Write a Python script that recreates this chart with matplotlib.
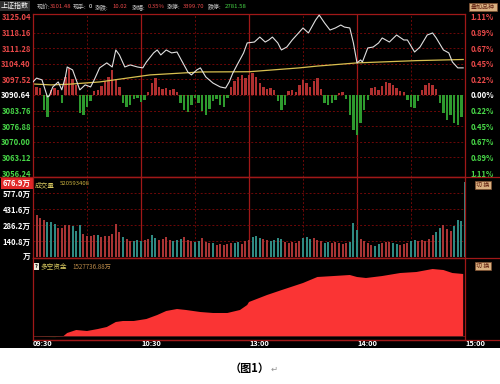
import matplotlib
matplotlib.use("Agg")
import matplotlib.pyplot as plt
from matplotlib.patches import Rectangle
from matplotlib.lines import Line2D

plt.rcParams['font.family'] = ['Noto Sans CJK SC', 'DejaVu Sans']

W, H = 500, 384
BASE = 3090.64

# 分时价格 (minutes after 09:30, trading time only)
price_min = [0, 2, 5, 8, 9, 11, 14, 16, 18, 19, 22, 24, 26, 29, 32, 34, 37, 41, 44, 46,
             48, 51, 54, 58, 61, 63, 67, 69, 71, 74, 77, 80, 83, 86, 88, 91, 93, 96, 100, 104,
             107, 109, 111, 114, 117, 119, 123, 126, 129, 131, 133, 136, 138, 141, 144, 150, 153, 157, 159, 162,
             165, 168, 171, 173, 176, 178, 180, 182, 183, 186, 189, 192, 194, 198, 202, 206, 208, 212, 215, 219,
             222, 224, 228, 231, 233, 236, 239]
price_val = [3096.4, 3098.1, 3097.3, 3089.8, 3090.2, 3094.2, 3096.4, 3092.9, 3098.6, 3103.0,
             3101.7, 3097.3, 3092.9, 3095.1, 3094.2, 3097.3, 3102.6, 3104.8, 3103.0, 3110.5,
             3108.3, 3103.0, 3103.9, 3103.0, 3102.6, 3105.2, 3109.2, 3110.5, 3108.3, 3110.5,
             3109.2, 3109.6, 3105.2, 3100.8, 3099.5, 3101.7, 3102.6, 3098.6, 3095.9, 3094.2,
             3093.7, 3096.4, 3100.3, 3104.8, 3109.2, 3113.6, 3114.0, 3116.2, 3114.0, 3114.9,
             3116.2, 3113.6, 3110.5, 3111.8, 3114.9, 3120.2, 3118.0, 3123.7, 3125.9, 3122.4,
             3119.3, 3120.2, 3121.5, 3120.6, 3120.2, 3113.6, 3104.8, 3106.1, 3105.2, 3111.4,
             3111.8, 3113.6, 3115.8, 3114.0, 3117.1, 3114.9, 3114.9, 3109.6, 3111.8, 3117.1,
             3118.0, 3115.8, 3110.5, 3109.2, 3105.2, 3102.6, 3102.6]

# 均价线
avg_min = [0, 10, 20, 37, 65, 93, 120, 148, 158, 180, 213, 239]
avg_val = [3095.5, 3095.1, 3095.4, 3096.4, 3099.5, 3100.8, 3100.9, 3102.6, 3103.4, 3104.8, 3105.8, 3106.3]

# 红绿柱 (points vs. previous close, every 2 minutes)
lead_val = [2.6, 3.5, 3.1, -6.6, -9.7, 2.2, 3.1, 2.2, -3.5, 7.9,
            11.9, 7.1, 4.4, -7.9, -8.8, -5.3, -2.6, 1.8, 2.2, 4.0,
            6.2, 7.9, 11.0, 7.1, 3.5, -3.5, -5.3, -4.4, -1.8, -1.3,
            -3.1, -2.2, 1.3, 5.3, 7.5, 3.5, 2.6, 3.1, 2.2, 2.6,
            1.3, -3.5, -6.6, -7.5, -4.4, -1.3, -3.5, -7.1, -8.8, -6.2,
            -2.6, -1.8, -4.4, -5.3, -1.3, 3.5, 6.2, 7.9, 8.8, 7.5,
            8.8, 9.7, 7.9, 5.3, 3.5, 2.6, 3.1, 2.2, -2.6, -6.6,
            -4.4, 1.8, 2.2, 1.3, 4.4, 6.6, 5.3, 3.5, 6.2, 7.5,
            2.6, -3.5, -4.4, -3.5, -2.2, 0.9, 1.3, -1.8, -8.8, -15.4,
            -17.6, -12.3, -6.6, -2.2, 3.1, 3.5, 2.2, 4.0, 5.7, 5.3,
            4.4, 3.1, 1.8, 1.3, -2.2, -5.3, -5.7, -2.6, 2.2, 4.4,
            5.3, 4.4, 2.6, -3.5, -7.9, -11.0, -8.8, -12.3, -13.2, -9.7]

# 成交量 (万, every 2 minutes, last one = 15:00)
vol_val = [414, 376, 348, 329, 310, 310, 291, 263, 263, 282,
           282, 273, 235, 282, 207, 188, 188, 197, 197, 179,
           188, 188, 207, 291, 226, 179, 160, 141, 141, 150,
           141, 150, 160, 197, 169, 150, 160, 179, 150, 141,
           150, 160, 179, 150, 141, 132, 141, 169, 132, 122,
           122, 103, 113, 103, 113, 122, 122, 132, 113, 141,
           150, 179, 188, 169, 160, 150, 141, 150, 169, 160,
           132, 122, 132, 122, 141, 169, 179, 160, 169, 150,
           141, 122, 132, 122, 132, 122, 113, 122, 132, 301,
           244, 160, 141, 122, 103, 94, 113, 122, 132, 132,
           122, 113, 103, 113, 122, 141, 150, 141, 150, 141,
           160, 197, 226, 263, 282, 254, 235, 273, 329, 320,
           677]
vol_dir = ("rrrrgggrrrrgggrrrrgrrrrrrgrrgggrrggrrrrgggrrrgg"
           "rrrgrrrrrggrrrgggrrggggrrrrrgggrrrggrrrrrgggrrrr"
           "ggrrrggrrrggrrrrrggrrrgggg")

# 多空资金 (亿)
flow_min = [0, 7, 12, 17, 19, 24, 30, 36, 41, 46, 50, 56, 63, 69, 74, 80, 85, 93, 100, 108,
            115, 119, 120, 130, 138, 150, 158, 167, 176, 180, 185, 194, 204, 213, 222, 228, 233, 239]
flow_val = [0, -1.2, -1.5, 0, 7.4, 14.8, 12.3, 17.2, 22.2, 34.5, 37.0, 37.0, 41.9, 51.7, 61.6, 66.5,
            64.1, 59.1, 56.7, 56.7, 64.1, 76.4, 83.8, 101.0, 113.0, 130.6, 145.4, 147.8, 150.3, 145.4,
            142.9, 147.8, 155.2, 157.7, 165.1, 162.6, 155.2, 152.8]

price_ticks = [3125.04, 3118.16, 3111.28, 3104.40, 3097.52, 3090.64,
               3083.76, 3076.88, 3070.00, 3063.12, 3056.24]
pct_labels = ['1.11%', '0.89%', '0.67%', '0.45%', '0.22%', '0.00%',
              '0.22%', '0.45%', '0.67%', '0.89%', '1.11%']
vol_ticks = [676.9, 577.0, 431.6, 286.2, 140.8, 0]
vol_labels = ['676.9万', '577.0万', '431.6万', '286.2万', '140.8万', '万']
time_ticks = [0, 60, 120, 180, 240]
time_labels = ['09:30', '10:30', '13:00', '14:00', '15:00']

BORDER = '#a01818'
GRID = '#6e0808'
RED_TXT = '#e84848'
GRN_TXT = '#48d848'
X0, X1 = 33, 465

fig = plt.figure(figsize=(W / 100, H / 100), dpi=100, facecolor='white')
fig.patches.append(Rectangle((0, 1 - 348 / H), 1, 348 / H, transform=fig.transFigure,
                             facecolor='black', edgecolor='none', zorder=-10))


def panel(y0, y1):
    ax = fig.add_axes([X0 / W, 1 - y1 / H, (X1 - X0) / W, (y1 - y0) / H])
    ax.set_facecolor('black')
    for s in ax.spines.values():
        s.set_color(BORDER)
        s.set_linewidth(0.9)
    ax.set_xlim(0, 240)
    ax.set_xticks([])
    ax.tick_params(length=0)
    return ax


def hline(y, xa, xb, **kw):
    fig.add_artist(Line2D([xa / W, xb / W], [1 - y / H, 1 - y / H], **kw))


def vgrid(ax):
    for m in [30, 90, 150, 210]:
        ax.axvline(m, color=GRID, lw=0.7, ls=(0, (2, 2)), zorder=0)
    for m in [60, 120, 180]:
        ax.axvline(m, color=BORDER, lw=0.9, zorder=0)


# ---- price panel
ax = panel(14, 177)
ax.set_ylim(BASE - 82 * 0.441, BASE + 81 * 0.441)
vgrid(ax)
for t in price_ticks[1:-1]:
    ax.axhline(t, color=GRID, lw=0.7, ls=(0, (2, 2)), zorder=0)
mins2 = [2 * i for i in range(len(lead_val))]
ax.bar(mins2, lead_val, bottom=BASE, width=1.3,
       color=['#b03030' if v > 0 else '#2e9a2e' for v in lead_val], zorder=1)
ax.plot(avg_min, avg_val, color='#d8c050', lw=0.9, zorder=2)
ax.plot(price_min, price_val, color='#e0e0e0', lw=0.8, zorder=3)
ax.set_yticks(price_ticks)
ax.set_yticklabels([f'{t:.2f}' for t in price_ticks], fontsize=5.5, fontweight='bold')
ax.tick_params(axis='y', pad=1.5)
for i, lab in enumerate(ax.get_yticklabels()):
    lab.set_color(RED_TXT if i < 5 else ('white' if i == 5 else GRN_TXT))
ax2 = ax.twinx()
ax2.set_ylim(ax.get_ylim())
ax2.set_yticks(price_ticks)
ax2.set_yticklabels(pct_labels, fontsize=5.5, fontweight='bold')
ax2.tick_params(length=0, pad=4)
for s in ax2.spines.values():
    s.set_visible(False)
for i, lab in enumerate(ax2.get_yticklabels()):
    lab.set_color(RED_TXT if i < 5 else ('white' if i == 5 else GRN_TXT))

# ---- volume panel
axv = panel(177, 258)
axv.set_ylim(-1.5 * 9.09, 79.5 * 9.09)
vgrid(axv)
for t in vol_ticks[1:-1]:
    axv.axhline(t, color=GRID, lw=0.7, ls=(0, (2, 2)), zorder=0)
vm = [2 * i for i in range(len(vol_val))]
axv.bar(vm, vol_val, width=1.2,
        color=['#a83434' if c == 'r' else '#2f8a82' for c in vol_dir[:len(vol_val)]], zorder=1)
axv.set_yticks(vol_ticks)
axv.set_yticklabels(vol_labels, fontsize=5.5, fontweight='bold', color='white')
axv.tick_params(axis='y', pad=1.5)
axv.get_yticklabels()[0].set_bbox(dict(facecolor='#e02828', edgecolor='none', pad=1.2))
tv = axv.get_xaxis_transform()
axv.text(1, 0.95, '成交量', transform=tv, color='#d8c860', fontsize=4.8, va='top')
axv.text(15, 0.95, '520593408', transform=tv, color='#c8b040', fontsize=4.3, va='top')

# ---- capital flow panel
axf = panel(258, 340)
axf.set_ylim(-4 * 2.464, 78 * 2.464)
axf.set_yticks([])
axf.fill_between(flow_min, flow_val, 0, where=[v >= 0 for v in flow_val],
                 color='#fa3434', lw=0, interpolate=True)
axf.fill_between(flow_min, flow_val, 0, where=[v < 0 for v in flow_val],
                 color='#2e9a2e', lw=0, interpolate=True)
axf.axhline(0, color='#702020', lw=0.6)
tf = axf.get_xaxis_transform()
axf.text(1.2, 0.93, '?', transform=tf, color='black', fontsize=4, va='top',
         fontweight='bold', bbox=dict(facecolor='#e8e8d8', edgecolor='none', pad=0.6))
axf.text(4.2, 0.94, '多空资金', transform=tf, color='#d8c860', fontsize=4.8, va='top')
axf.text(22, 0.94, '1527736.88万', transform=tf, color='#b88848', fontsize=4.5, va='top')

# separators extending past the plot area
hline(177, 0, 500, color=BORDER, lw=0.9)
hline(258, X0, 500, color=BORDER, lw=0.9)
hline(340, X0, 500, color=BORDER, lw=0.9)

# time labels
for m, lab in zip(time_ticks, time_labels):
    fig.text((X0 + m * (X1 - X0) / 240) / W, 1 - 344 / H, lab, color='white',
             fontsize=5.3, fontweight='bold', ha='left', va='center')

# header
fig.text(1 / W, 1 - 6 / H, '上证指数', color='white', fontsize=5, va='center',
         bbox=dict(facecolor='#303030', edgecolor='none', pad=0.5))
header = [(37, '现价:', '#c8c8c8'), (50, '3101.48', RED_TXT), (73, '现手:', '#c8c8c8'),
          (89, '0', 'white'), (95, '涨跌:', '#c8c8c8'), (112, '10.02', RED_TXT),
          (132, '涨幅:', '#c8c8c8'), (148, '0.35%', RED_TXT), (167, '涨停:', '#c8c8c8'),
          (183, '3399.70', RED_TXT), (208, '跌停:', '#c8c8c8'), (225, '2781.58', GRN_TXT)]
for x, s, c in header:
    fig.text(x / W, 1 - 7 / H, s, color=c, fontsize=4.3, va='center')

# buttons on the right
for yc, s in [(7, '叠加品种'), (185, '切 换'), (266, '切 换')]:
    fig.text(483 / W, 1 - yc / H, s, color='#602010', fontsize=4.3, ha='center', va='center',
             bbox=dict(facecolor='#d8b080', edgecolor='#805030', lw=0.5, pad=1.2))

# caption
fig.text(250 / W, 1 - 368 / H, '（图1）', color='black', fontsize=8, fontweight='bold',
         ha='center', va='center')
fig.text(271 / W, 1 - 369 / H, '↵', color='#909090', fontsize=6, ha='left', va='center')

fig.savefig('out.png', dpi=100, facecolor='white')
